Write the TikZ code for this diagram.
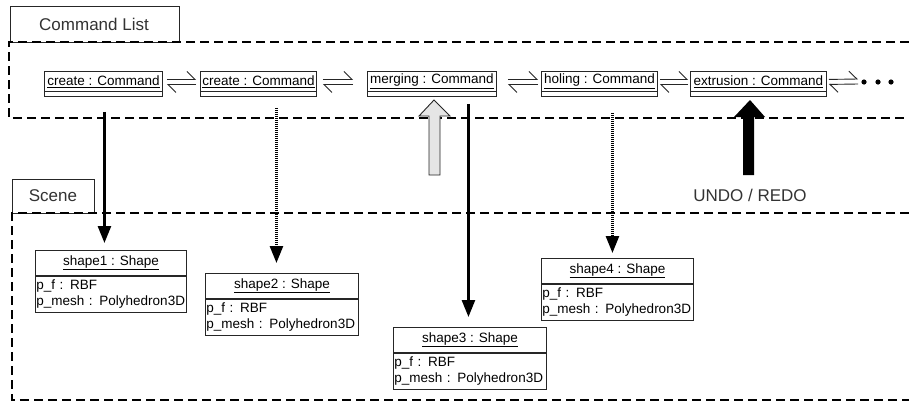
\documentclass[tikz,border=0pt]{standalone}
\usepackage{fontspec}
\setmainfont{Liberation Sans}
\usetikzlibrary{arrows.meta}
\begin{document}
\begin{tikzpicture}[x=1pt,y=-1pt,
  lbl/.style={font=\fontsize{17}{20}\selectfont, text=black!80},
  tabbox/.style={draw=black!85, line width=0.9pt},
  dashbox/.style={draw=black, line width=2pt, dash pattern=on 9pt off 5pt},
  cmdbox/.style={draw=black!85, line width=0.9pt, anchor=north west, inner sep=0pt,
    minimum height=20pt, font=\fontsize{13.5}{16}\selectfont},
  shead/.style={draw=black!85, line width=0.9pt, anchor=north west, inner sep=0pt,
    minimum height=25pt, font=\fontsize{13.5}{16}\selectfont},
  sbody/.style={draw=black!85, line width=0.9pt, anchor=north west, inner sep=1pt,
    minimum height=36pt, align=left, font=\fontsize{13.5}{16}\selectfont},
  harp/.style={draw=black!85, line width=0.9pt, -{Straight Barb[harpoon, length=8pt, width=16pt]}},
  varr/.style={line width=2.6pt, -{Triangle[width=13pt, length=17pt]}},
  dotline/.style={dash pattern=on 1.1pt off 0.9pt}
]
\useasboundingbox (0,0) rectangle (909,405);
\fill[white] (0,0) rectangle (909,405);

% Command List frame
\draw[tabbox] (10,6) rectangle (179,42);
\node[lbl] (cltitle) at (94,24) {Command List};
\draw[dashbox] (909,42) -- (9,42) -- (9,118) -- (909,118);

% Scene frame
\draw[tabbox] (12,179) rectangle (94,213);
\node[lbl] (sctitle) at (53,196) {Scene};
\draw[dashbox] (909,213) -- (12,213) -- (12,400) -- (909,400);

% Command nodes
\node[cmdbox, minimum width=118pt] (cmd1) at (44,71) {\underline{create : Command}};
\node[cmdbox, minimum width=116pt] (cmd2) at (200,71) {\underline{create : Command}};
\node[cmdbox, minimum width=129pt] (cmd3) at (367,71) {\underline{merging : Command}};
\node[cmdbox, minimum width=116pt] (cmd4) at (541,71) {\underline{holing : Command}};
\node[cmdbox, minimum width=136pt] (cmd5) at (690,71) {\underline{extrusion : Command}};
\foreach \c in {cmd1,cmd2,cmd3,cmd4,cmd5}{
  \draw[draw=black!85, line width=0.9pt] (\c.south west) rectangle ([yshift=-5pt]\c.south east);
}

% harpoon pairs
\draw[harp, shorten <=4pt, shorten >=4pt] ([yshift=2pt]cmd1.east) -- ([yshift=2pt]cmd2.west);
\draw[harp, shorten <=4pt, shorten >=4pt] ([yshift=-3pt]cmd2.west) -- ([yshift=-3pt]cmd1.east);
\draw[harp, shorten <=6pt, shorten >=14pt] ([yshift=2pt]cmd2.east) -- ([yshift=2pt]cmd3.west);
\draw[harp, shorten <=14pt, shorten >=6pt] ([yshift=-3pt]cmd3.west) -- ([yshift=-3pt]cmd2.east);
\draw[harp, shorten <=11pt, shorten >=3pt] ([yshift=2pt]cmd3.east) -- ([yshift=2pt]cmd4.west);
\draw[harp, shorten <=3pt, shorten >=11pt] ([yshift=-3pt]cmd4.west) -- ([yshift=-3pt]cmd3.east);
\draw[harp, shorten <=2pt, shorten >=2pt] ([yshift=2pt]cmd4.east) -- ([yshift=2pt]cmd5.west);
\draw[harp, shorten <=2pt, shorten >=2pt] ([yshift=-3pt]cmd5.west) -- ([yshift=-3pt]cmd4.east);
\coordinate (more) at (858,81);
\draw[harp, shorten <=2pt] ([yshift=2pt]cmd5.east) -- ([yshift=2pt]more);
\draw[harp, shorten >=2pt] ([yshift=-3pt]more) -- ([yshift=-3pt]cmd5.east);
\foreach \x in {864,878,891}{ \fill (\x,82) circle (2.6pt); }

% Shape nodes
\node[shead, minimum width=151pt] (s1) at (35,250) {\underline{shape1 : Shape}};
\node[sbody, minimum width=151pt, text width=149pt] (s1b) at (s1.south west) {p\_f : RBF\\p\_mesh : Polyhedron3D};
\node[shead, minimum width=153pt] (s2) at (205,273) {\underline{shape2 : Shape}};
\node[sbody, minimum width=153pt, text width=151pt] (s2b) at (s2.south west) {p\_f : RBF\\p\_mesh : Polyhedron3D};
\node[shead, minimum width=153pt] (s3) at (393,327) {\underline{shape3 : Shape}};
\node[sbody, minimum width=153pt, text width=151pt] (s3b) at (s3.south west) {p\_f : RBF\\p\_mesh : Polyhedron3D};
\node[shead, minimum width=152pt] (s4) at (541,258) {\underline{shape4 : Shape}};
\node[sbody, minimum width=152pt, text width=150pt] (s4b) at (s4.south west) {p\_f : RBF\\p\_mesh : Polyhedron3D};

% vertical arrows
\draw[varr, shorten >=7pt] ([xshift=1pt,yshift=-20pt]cmd1.south) -- ([xshift=1pt]cmd1.south |- s1.north);
\draw[varr, dotline, shorten >=10pt] ([xshift=18pt,yshift=-16pt]cmd2.south) -- ([xshift=18pt]cmd2.south |- s2.north);
\draw[varr, shorten >=10pt] ([xshift=36.5pt,yshift=-12pt]cmd3.south) -- ([xshift=36.5pt]cmd3.south |- s3.north);
\draw[varr, dotline, shorten >=5pt] ([xshift=13pt,yshift=-21pt]cmd4.south) -- ([xshift=13pt]cmd4.south |- s4.north);

% block arrows
\draw[fill=black!10, draw=black!85, line width=0.9pt]
  (434,100) -- (450,116) -- (440,116) -- (440,175) -- (429,175) -- (429,116) -- (419,116) -- cycle;
\fill[black]
  (750,100) -- (765,117) -- (754,117) -- (754,175) -- (743,175) -- (743,117) -- (734,117) -- cycle;
\node[lbl] (undo) at (750,195) {UNDO / REDO};
\end{tikzpicture}
\end{document}
